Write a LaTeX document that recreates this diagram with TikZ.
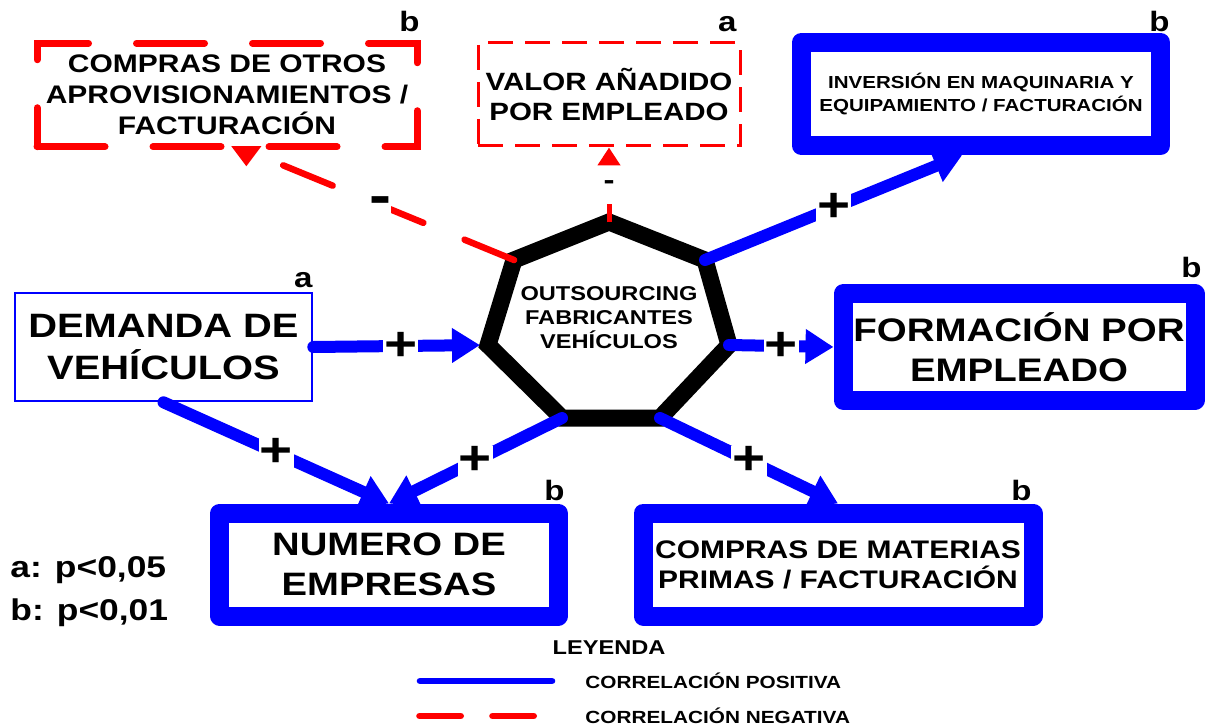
\documentclass[tikz,border=0pt]{standalone}
\usepackage{fontspec}
\setmainfont{Liberation Sans}[FakeStretch=1.18]
\usetikzlibrary{arrows.meta}
\usetikzlibrary{calc}

\begin{document}
\begin{tikzpicture}[x=0.5pt, y=-0.5pt,
	bluebox/.style={draw=blue, line width=9.5pt, line join=round, fill=white, inner sep=2pt, align=center},
	thinbox/.style={draw=blue, line width=1.3pt, fill=white, inner sep=2pt, align=center},
	redbox/.style={draw=red, line width=3.5pt, line cap=round, dash pattern=on 34pt off 24pt, inner sep=2pt, align=center},
	valbox/.style={draw=red, line width=1.5pt, dash pattern=on 12.5pt off 6pt, inner sep=2pt, align=center},
	hept/.style={draw=black, line width=8.5pt, line join=miter},
	poslink/.style={draw=blue, line width=6pt, line cap=round, -{Triangle[length=14pt,width=16.5pt]}},
	neglink/.style={draw=red, line width=3.25pt, line cap=round, dash pattern=on 26.75pt off 22.25pt},
	plussign/.style={fill=white, inner sep=0.5pt, font=\fontsize{24}{24}\selectfont\bfseries},
	minussign/.style={fill=white, inner sep=0pt, font=\fontsize{28}{28}\selectfont\bfseries},
	siglab/.style={anchor=base east, inner sep=0pt, font=\fontsize{14}{14}\selectfont\bfseries},
	pval/.style={anchor=base west, inner sep=0pt, font=\fontsize{15}{15}\selectfont\bfseries},
	legtext/.style={anchor=west, inner sep=0pt, font=\fontsize{8.8}{8.8}\selectfont\bfseries}]
	 \useasboundingbox (0,0) rectangle (1208,727);
	 %
	 \node[redbox, minimum width=190pt, minimum height=51.75pt, font=\fontsize{12.7}{15.5}\selectfont\bfseries] (otros) at (227,95) {COMPRAS DE OTROS\\APROVISIONAMIENTOS /\\FACTURACIÓN};
	 %
	 \node[valbox, minimum width=131pt, minimum height=51.5pt, font=\fontsize{12.5}{15}\selectfont\bfseries] (valor) at (609,94.5) {VALOR AÑADIDO\\POR EMPLEADO};
	 %
	 \node[bluebox, minimum width=179.5pt, minimum height=51.75pt, font=\fontsize{8.7}{11.5}\selectfont\bfseries] (inv) at (981,94) {INVERSIÓN EN MAQUINARIA Y\\EQUIPAMIENTO / FACTURACIÓN};
	 %
	 \node[bluebox, minimum width=176pt, minimum height=53.25pt, font=\fontsize{16.3}{20}\selectfont\bfseries] (form) at (1019,347) {FORMACIÓN POR\\EMPLEADO};
	 %
	 \node[thinbox, minimum width=148.5pt, minimum height=54pt, font=\fontsize{16.9}{21}\selectfont\bfseries] (dem) at (163.5,347) {DEMANDA DE\\VEHÍCULOS};
	 %
	 \node[bluebox, minimum width=169.25pt, minimum height=51.5pt, font=\fontsize{16.2}{20}\selectfont\bfseries] (num) at (389,564.5) {NUMERO DE\\EMPRESAS};
	 %
	 \node[bluebox, minimum width=195pt, minimum height=51.5pt, font=\fontsize{12.7}{15}\selectfont\bfseries] (mat) at (838,564.5) {COMPRAS DE MATERIAS\\PRIMAS / FACTURACIÓN};
	 %
	 %Heptagono
	 \coordinate (hT) at (609,222);
	 \coordinate (hUR) at (705,260);
	 \coordinate (hR) at (729,345);
	 \coordinate (hLR) at (660,418);
	 \coordinate (hLL) at (562,418);
	 \coordinate (hL) at (488,345);
	 \coordinate (hUL) at (514,260);
	 \draw[hept] (hT) -- (hUR) -- (hR) -- (hLR) -- (hLL) -- (hL) -- (hUL) -- cycle;
	 \node[align=center, font=\fontsize{10}{12}\selectfont\bfseries] (out) at (609,318) {OUTSOURCING\\FABRICANTES\\VEHÍCULOS};
	 %
	 %Significancia
	 \node[siglab] (otrosSig) at (420,32) {b};
	 \node[siglab] (valorSig) at (737,32) {a};
	 \node[siglab] (invSig) at (1170,32) {b};
	 \node[siglab] (formSig) at (1202,277) {b};
	 \node[siglab] (demSig) at (313,287) {a};
	 \node[siglab] (numSig) at (565,500) {b};
	 \node[siglab] (matSig) at (1032,500) {b};
	 %
	 %Demanda-Outsourcing
	 \draw[poslink, shorten >=4pt] (dem.east) -- node[plussign]{+} (hL);
	 %
	 %Outsourcing-Formacion
	 \draw[poslink] (hR) -- node[plussign]{+} (form.west);
	 %
	 %Outsourcing-Inversion
	 \draw[poslink] (hUR) -- node[plussign]{+} ($(inv.south west)!0.45!(inv.south east)$);
	 %
	 %Demanda-Numero
	 \draw[poslink] (dem.south) -- node[plussign]{+} (num.north);
	 %
	 %Outsourcing-Numero
	 \draw[poslink] (hLL) -- node[plussign]{+} (num.north);
	 %
	 %Outsourcing-Materias
	 \draw[poslink] (hLR) -- node[plussign]{+} (mat.north);
	 %
	 %Outsourcing-Otros
	 \coordinate (otrosEnd) at ($(otros.south west)!0.55!(otros.south east)$);
	 \draw[neglink] (hUL) -- node[minussign]{-} (otrosEnd);
	 \fill[red] (otrosEnd) ++(-15,-4) -- ++(30,0) -- ++(-15,20) -- cycle;
	 %
	 %Outsourcing-Valor
	 \draw[neglink, line width=2.5pt, line cap=butt, dash pattern=on 9pt off 40pt, -{Triangle[length=9pt,width=11pt]}] (hT) -- node[minussign, font=\fontsize{14}{14}\selectfont\bfseries]{-} (valor.south);
	 %
	 %p-valores
	 \node[pval] (pa) at (10,577) {a: p<0,05};
	 \node[pval] (pb) at (10,620) {b: p<0,01};
	 %
	 %Leyenda
	 \node[font=\fontsize{10}{10}\selectfont\bfseries] (ley) at (609,648) {LEYENDA};
	 \node[legtext] (lpos) at (585,681) {CORRELACIÓN POSITIVA};
	 \node[legtext] (lneg) at (585,716) {CORRELACIÓN NEGATIVA};
	 \draw[blue, line width=3.3pt, line cap=round] (420,681) -- (552,681);
	 \draw[red, line width=3.3pt, line cap=round, dash pattern=on 20.6pt off 15.9pt] (419.5,716) -- (534,716);
\end{tikzpicture}
\end{document}
